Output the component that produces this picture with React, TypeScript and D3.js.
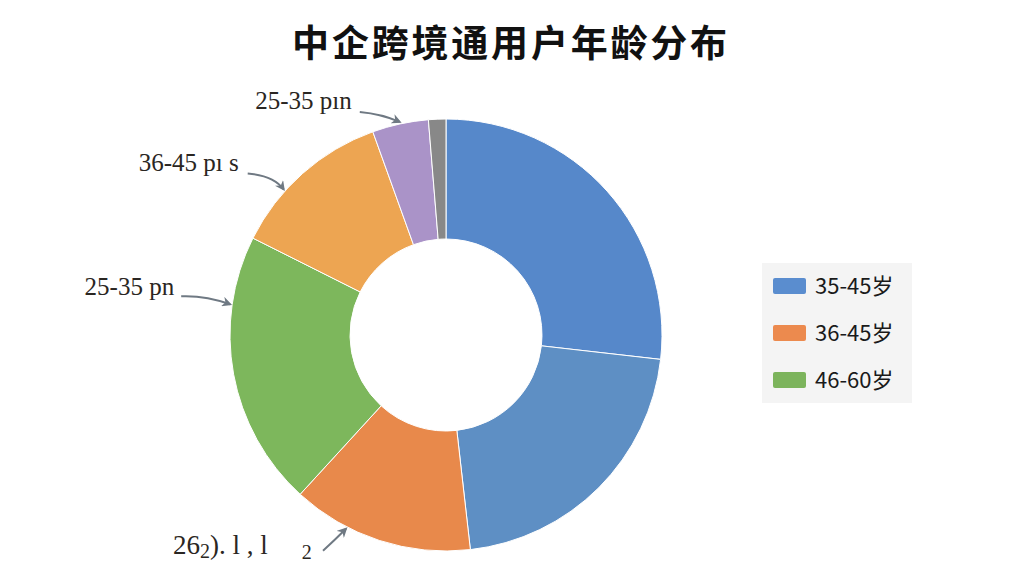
import React, { useRef, useEffect } from "react";
import * as d3 from "d3";

// slices clockwise from 12 o'clock
const sliceKeys = ["a", "b", "c", "d", "e", "f", "g"];
const sliceValues = [26.8, 21.4, 13.6, 20.6, 12.1, 4.2, 1.3];
const sliceColors = ["#5688CA", "#5E8FC4", "#E8894B", "#7DB75C", "#EDA552", "#AA93C8", "#888888"];

const legendLabels = ["35-45岁", "36-45岁", "46-60岁"];
const legendColors = ["#5A8DCF", "#EC8A4E", "#7CB45C"];

// annotation texts pointing at slices (slice index, position in slice)
const noteSlices = [5, 4, 3, 2];
const noteFracs = [0.5, 0.35, 0.75, 0.69];
const noteTexts = ["25-35 pın", "36-45 pı s", "25-35 pn", "26"];

const title = "中企跨境通用户年龄分布";

const width = 1024;
const height = 576;
const cx = 446;
const cy = 335;
const outerR = 216;
const innerR = 96;

// label anchor and arrow start / bend relative to arrow tip
const noteLayout = [
  { tx: -48, ty: -13, anchor: "end", sx: -40, sy: -10, qx: -18, qy: -8 },
  { tx: -45, ty: -18, anchor: "end", sx: -36, sy: -16, qx: -10, qy: -14 },
  { tx: -56, ty: -9, anchor: "end", sx: -49, sy: -8, qx: -25, qy: -9 },
  { tx: -173, ty: 25, anchor: "start", sx: -23, sy: 22, qx: -12, qy: 12 },
];

const App: React.FC = () => {
  const svgRef = useRef<SVGSVGElement | null>(null);

  useEffect(() => {
    if (!svgRef.current) return;
    const svg = d3.select(svgRef.current);
    svg.selectAll("*").remove();

    const defs = svg.append("defs");
    defs
      .append("marker")
      .attr("id", "arrow")
      .attr("viewBox", "0 0 10 10")
      .attr("refX", 8)
      .attr("refY", 5)
      .attr("markerWidth", 5)
      .attr("markerHeight", 5)
      .attr("orient", "auto")
      .append("path")
      .attr("d", "M0,0 L10,5 L0,10 L3,5 Z")
      .attr("fill", "#6F7983");

    svg.append("rect").attr("width", width).attr("height", height).attr("fill", "#ffffff");

    // title
    svg
      .append("text")
      .attr("x", 511)
      .attr("y", 57)
      .attr("text-anchor", "middle")
      .attr("font-family", "'Noto Sans CJK SC', sans-serif")
      .attr("font-weight", "bold")
      .attr("font-size", 37)
      .attr("letter-spacing", 2.8)
      .attr("fill", "#111")
      .text(title);

    const pie = d3
      .pie<number>()
      .sort(null)
      .startAngle(0)
      .endAngle(2 * Math.PI)
      .value((d) => d);
    const arcs = pie(sliceValues);

    const arc = d3
      .arc<d3.PieArcDatum<number>>()
      .innerRadius(innerR)
      .outerRadius(outerR);

    const g = svg.append("g").attr("transform", `translate(${cx},${cy})`);
    g.selectAll("path.slice")
      .data(arcs)
      .enter()
      .append("path")
      .attr("class", "slice")
      .attr("d", arc)
      .attr("fill", (_, i) => sliceColors[i])
      .attr("stroke", "#ffffff")
      .attr("stroke-width", 1)
      .attr("data-key", (_, i) => sliceKeys[i]);

    // annotations with arrows
    noteSlices.forEach((si, i) => {
      const a = arcs[si];
      const ang = a.startAngle + (a.endAngle - a.startAngle) * noteFracs[i];
      const r = outerR + 2;
      const px = cx + r * Math.sin(ang);
      const py = cy - r * Math.cos(ang);
      const L = noteLayout[i];

      const p = d3.path();
      p.moveTo(px + L.sx, py + L.sy);
      p.quadraticCurveTo(px + L.qx, py + L.qy, px, py);
      svg
        .append("path")
        .attr("d", p.toString())
        .attr("fill", "none")
        .attr("stroke", "#6F7983")
        .attr("stroke-width", 2)
        .attr("marker-end", "url(#arrow)");

      const t = svg
        .append("text")
        .attr("x", px + L.tx)
        .attr("y", py + L.ty)
        .attr("text-anchor", L.anchor)
        .attr("font-family", "'Liberation Serif', 'Times New Roman', serif")
        .attr("font-size", 25)
        .attr("fill", "#2A2622");

      if (i === 3) {
        t.append("tspan").attr("font-size", 27).text(noteTexts[i]);
        t.append("tspan").attr("font-size", 20).attr("dy", 4).text("2");
        t.append("tspan").attr("font-size", 27).attr("dy", -4).text("). l , l");
        t.append("tspan").attr("font-size", 20).attr("dx", 34).attr("dy", 5).text("2");
      } else {
        t.text(noteTexts[i]);
      }
    });

    // legend
    const lg = svg.append("g").attr("transform", "translate(762,263)");
    lg.append("rect").attr("width", 150).attr("height", 140).attr("fill", "#F4F4F4");
    const items = lg
      .selectAll("g.item")
      .data(legendLabels)
      .enter()
      .append("g")
      .attr("class", "item")
      .attr("transform", (_, i) => `translate(11,${15 + i * 47})`);
    items
      .append("rect")
      .attr("width", 33)
      .attr("height", 16)
      .attr("rx", 2)
      .attr("fill", (_, i) => legendColors[i]);
    items
      .append("text")
      .attr("x", 42)
      .attr("y", 16)
      .attr("font-family", "'Noto Sans CJK SC', sans-serif")
      .attr("font-size", 22)
      .attr("fill", "#1A1A1A")
      .text((d) => d);
  }, []);

  return (
    <svg
      ref={svgRef}
      width={width}
      height={height}
      style={{ position: "fixed", left: 0, top: 0 }}
    />
  );
};

export default App;
